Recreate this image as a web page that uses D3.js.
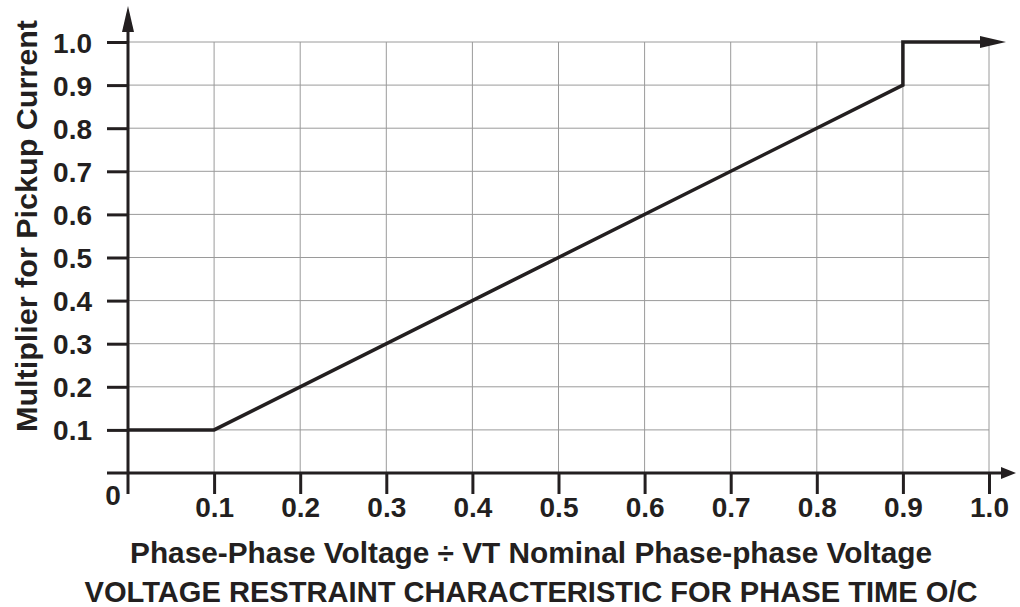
<!DOCTYPE html>
<html>
<head>
<meta charset="utf-8">
<script src="https://cdn.jsdelivr.net/npm/d3@7"></script>
<style>
  html, body { margin: 0; padding: 0; background: #fff; }
  svg { display: block; font-family: "Liberation Sans", Arial, sans-serif; }
</style>
</head>
<body>
<svg id="chart" width="1020" height="607"></svg>
<script>
// Voltage restraint characteristic: pickup multiplier vs. voltage ratio
const xTicks = [0.1, 0.2, 0.3, 0.4, 0.5, 0.6, 0.7, 0.8, 0.9, 1.0];
const yTicks = [0.1, 0.2, 0.3, 0.4, 0.5, 0.6, 0.7, 0.8, 0.9, 1.0];
const xTickLabels = ["0.1", "0.2", "0.3", "0.4", "0.5", "0.6", "0.7", "0.8", "0.9", "1.0"];
const yTickLabels = ["0.1", "0.2", "0.3", "0.4", "0.5", "0.6", "0.7", "0.8", "0.9", "1.0"];
const curveRatio = [0, 0.1, 0.9, 0.9, 1.0];
const curveMultiplier = [0.1, 0.1, 0.9, 1.0, 1.0];

const xTitle = "Phase-Phase Voltage \u00F7 VT Nominal Phase-phase Voltage";
const yTitle = "Multiplier for Pickup Current";
const chartTitle = "VOLTAGE RESTRAINT CHARACTERISTIC FOR PHASE TIME O/C";

const ink = "#231f20";
const svg = d3.select("#chart");

const x = d3.scaleLinear().domain([0, 1]).range([128, 989]);
const y = d3.scaleLinear().domain([0, 1]).range([473, 42]);

const defs = svg.append("defs");
defs.append("marker")
  .attr("id", "headLong")
  .attr("viewBox", "0 -6 26 12")
  .attr("refX", 9).attr("refY", 0)
  .attr("markerUnits", "userSpaceOnUse")
  .attr("markerWidth", 26).attr("markerHeight", 12)
  .attr("orient", "auto")
  .append("path").attr("d", "M0,-6L26,0L0,6Z").attr("fill", ink);

// grid
const grid = svg.append("g").attr("stroke", "#9a9a9a").attr("stroke-width", 1);
grid.selectAll("line.v").data(xTicks).join("line")
  .attr("x1", d => x(d)).attr("x2", d => x(d))
  .attr("y1", y(1)).attr("y2", y(0));
grid.selectAll("line.h").data(yTicks).join("line")
  .attr("x1", x(0)).attr("x2", x(1))
  .attr("y1", d => y(d)).attr("y2", d => y(d));

// x axis
const xAxis = svg.append("g")
  .attr("transform", `translate(0,${y(0)})`)
  .call(d3.axisBottom(x).tickValues(xTicks).tickFormat((d, i) => xTickLabels[i])
    .tickSize(21).tickSizeOuter(0).tickPadding(6));
xAxis.select(".domain").remove();
xAxis.selectAll(".tick line").attr("stroke", ink).attr("stroke-width", 3);
xAxis.selectAll(".tick text")
  .attr("fill", ink).attr("font-size", 28).attr("font-weight", "bold")
  .attr("font-family", "Liberation Sans, Arial, sans-serif")
  .attr("dy", null).attr("y", 44);

// y axis
const yAxis = svg.append("g")
  .attr("transform", `translate(${x(0)},0)`)
  .call(d3.axisLeft(y).tickValues(yTicks).tickFormat((d, i) => yTickLabels[i])
    .tickSize(21).tickSizeOuter(0).tickPadding(15));
yAxis.select(".domain").remove();
yAxis.selectAll(".tick line").attr("stroke", ink).attr("stroke-width", 3);
yAxis.selectAll(".tick text")
  .attr("fill", ink).attr("font-size", 28).attr("font-weight", "bold")
  .attr("font-family", "Liberation Sans, Arial, sans-serif")
  .attr("dy", "0.36em");

// axis lines with arrowheads
svg.append("line")
  .attr("x1", x(0) - 21).attr("x2", 1003)
  .attr("y1", y(0)).attr("y2", y(0))
  .attr("stroke", ink).attr("stroke-width", 3);
svg.append("path")
  .attr("d", `M1016,${y(0)}L1001,${y(0) - 6}L1001,${y(0) + 6}Z`)
  .attr("fill", ink);
svg.append("line")
  .attr("x1", x(0)).attr("x2", x(0))
  .attr("y1", y(0) + 21).attr("y2", 30)
  .attr("stroke", ink).attr("stroke-width", 3);
svg.append("path")
  .attr("d", `M${x(0)},6L${x(0) - 6},32L${x(0) + 6},32Z`)
  .attr("fill", ink);

// origin label
svg.append("text")
  .attr("x", 113).attr("y", 505)
  .attr("text-anchor", "middle")
  .attr("font-size", 28).attr("font-weight", "bold").attr("fill", ink)
  .text("0");

// characteristic curve
const pts = curveRatio.map((d, i) => [d, curveMultiplier[i]]);
svg.append("path")
  .datum(pts)
  .attr("d", d3.line().x(d => x(d[0])).y(d => y(d[1])))
  .attr("fill", "none").attr("stroke", ink).attr("stroke-width", 3.5)
  .attr("stroke-linejoin", "miter")
  .attr("marker-end", "url(#headLong)");

// titles
svg.append("text")
  .attr("transform", `translate(37,226) rotate(-90)`)
  .attr("text-anchor", "middle")
  .attr("font-size", 30).attr("font-weight", "bold").attr("fill", ink)
  .attr("textLength", 412).attr("lengthAdjust", "spacingAndGlyphs")
  .text(yTitle);

svg.append("text")
  .attr("x", 531).attr("y", 563)
  .attr("text-anchor", "middle")
  .attr("font-size", 30).attr("font-weight", "bold").attr("fill", ink)
  .attr("textLength", 802).attr("lengthAdjust", "spacingAndGlyphs")
  .text(xTitle);

svg.append("text")
  .attr("x", 531).attr("y", 602)
  .attr("text-anchor", "middle")
  .attr("font-size", 30).attr("font-weight", "bold").attr("fill", ink)
  .attr("textLength", 893).attr("lengthAdjust", "spacingAndGlyphs")
  .text(chartTitle);
</script>
</body>
</html>
